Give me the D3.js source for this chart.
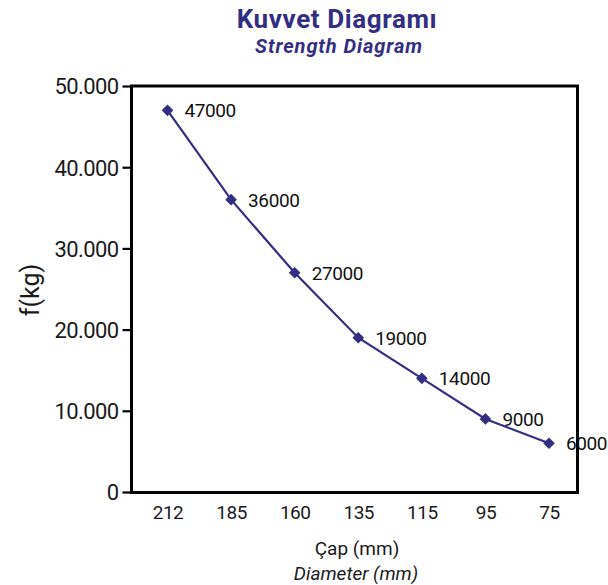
<!DOCTYPE html>
<html><head><meta charset="utf-8">
<script src="https://cdn.jsdelivr.net/npm/d3@7"></script>
<style>body{margin:0;background:#fff}</style>
</head><body>
<script>
const categories = ["212","185","160","135","115","95","75"];
const values = [47000,36000,27000,19000,14000,9000,6000];
const yTicks = [0,10000,20000,30000,40000,50000];
const titleMain = "Kuvvet Diagramı";
const titleSub = "Strength Diagram";
const xTitle1 = "Çap (mm)";
const xTitle2 = "Diameter (mm)";
const yTitle = "f(kg)";

const W=608,H=585;
const purple="#332e82";
const font="Roboto, 'Noto Sans', sans-serif";
const svg=d3.select("body").append("svg").attr("width",W).attr("height",H);

const frame={l:131.5,r:577.5,t:86,b:492.5};
const x=d3.scalePoint().domain(categories).range([167.5,549]);
const y=d3.scaleLinear().domain([0,50000]).range([492,86]);

// frame
svg.append("rect").attr("x",frame.l).attr("y",frame.t).attr("width",frame.r-frame.l).attr("height",frame.b-frame.t)
  .attr("fill","none").attr("stroke","#000").attr("stroke-width",3);

// y axis
const fmt=v=>v===0?"0":d3.format(",")(v).replace(/,/g,".");
const ya=svg.append("g").attr("transform",`translate(${frame.l},0)`)
  .call(d3.axisLeft(y).tickValues(yTicks).tickFormat(fmt).tickSize(9).tickPadding(4));
ya.select(".domain").remove();
ya.selectAll(".tick line").attr("stroke","#000").attr("stroke-width",2.2);
ya.selectAll(".tick text").attr("font-family",font).attr("font-size",22).attr("fill","#1a1a1a")
  .attr("letter-spacing","-0.6").attr("dy","0.36em");

// x axis labels
const xa=svg.append("g").attr("transform",`translate(0,${frame.b})`)
  .call(d3.axisBottom(x).tickSize(0).tickPadding(13));
xa.select(".domain").remove();
xa.selectAll(".tick text").attr("font-family",font).attr("font-size",19).attr("fill","#1a1a1a").attr("letter-spacing","-0.5");

// line
const data=categories.map((c,i)=>({c,v:values[i]}));
svg.append("path").datum(data).attr("fill","none").attr("stroke",purple).attr("stroke-width",2.2)
  .attr("d",d3.line().x(d=>x(d.c)).y(d=>y(d.v)));
svg.selectAll(".mk").data(data).enter().append("path")
  .attr("d",d3.symbol(d3.symbolSquare,68)())
  .attr("transform",d=>`translate(${x(d.c)},${y(d.v)}) rotate(45)`).attr("fill",purple);
svg.selectAll(".lbl").data(data).enter().append("text")
  .attr("x",d=>x(d.c)+17).attr("y",d=>y(d.v)).attr("dy","0.36em")
  .attr("font-family",font).attr("font-size",19).attr("fill","#111").attr("letter-spacing","-0.4")
  .text(d=>d.v);

// titles
svg.append("text").attr("x",337).attr("y",28).attr("text-anchor","middle").attr("font-family",font)
  .attr("font-weight","bold").attr("font-size",26).attr("letter-spacing","0.6").attr("fill",purple).text(titleMain);
svg.append("text").attr("x",339).attr("y",53).attr("text-anchor","middle").attr("font-family",font)
  .attr("font-weight","bold").attr("font-style","italic").attr("font-size",20).attr("letter-spacing","0.9").attr("fill",purple).text(titleSub);
svg.append("text").attr("x",357).attr("y",555).attr("text-anchor","middle").attr("font-family",font)
  .attr("font-size",19).attr("fill","#1a1a1a").text(xTitle1);
svg.append("text").attr("x",356).attr("y",580).attr("text-anchor","middle").attr("font-family",font)
  .attr("font-style","italic").attr("font-size",19).attr("fill","#1a1a1a").text(xTitle2);
svg.append("text").attr("transform","translate(39,290) rotate(-90)").attr("text-anchor","middle")
  .attr("font-family",font).attr("font-size",25).attr("fill","#1a1a1a").text(yTitle);
</script>
</body></html>
